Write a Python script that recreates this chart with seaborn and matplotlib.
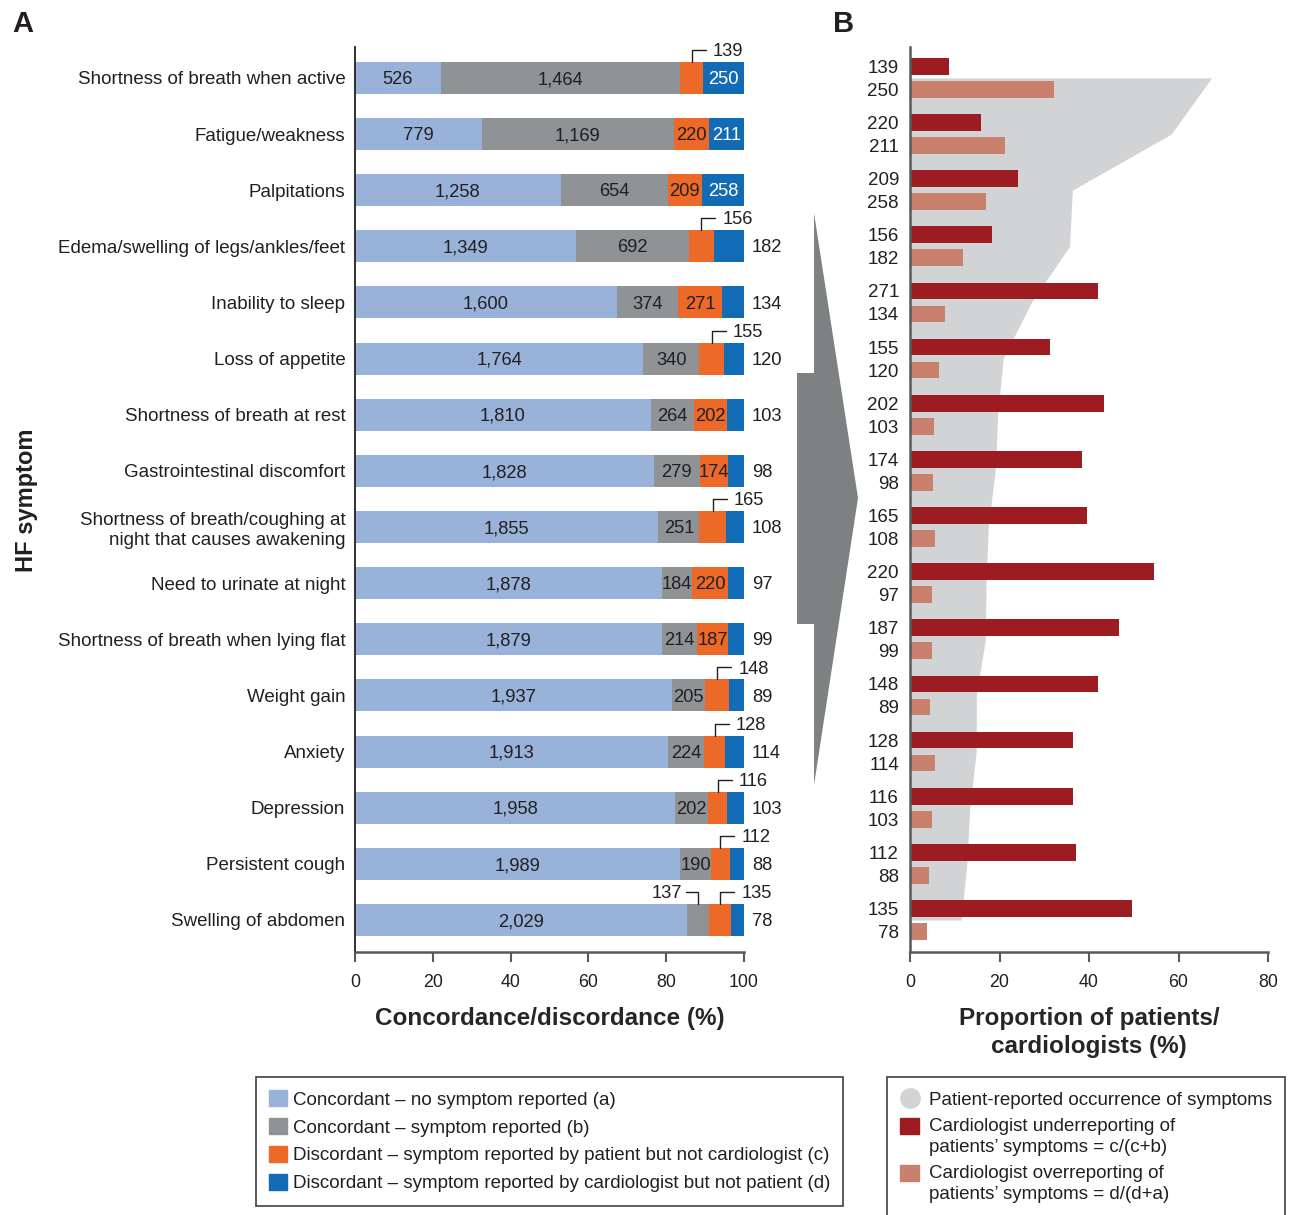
import numpy as np
import pandas as pd
import matplotlib
matplotlib.use('Agg')
import matplotlib.pyplot as plt
from matplotlib.patches import Patch, Polygon
from matplotlib.lines import Line2D
from matplotlib.legend_handler import HandlerPatch
import seaborn as sns

symptoms = ['Shortness of breath when active', 'Fatigue/weakness', 'Palpitations',
            'Edema/swelling of legs/ankles/feet', 'Inability to sleep', 'Loss of appetite',
            'Shortness of breath at rest', 'Gastrointestinal discomfort',
            'Shortness of breath/coughing at\nnight that causes awakening',
            'Need to urinate at night', 'Shortness of breath when lying flat', 'Weight gain',
            'Anxiety', 'Depression', 'Persistent cough', 'Swelling of abdomen']
# a, b, c, d counts per symptom
concord_none = [526, 779, 1258, 1349, 1600, 1764, 1810, 1828, 1855, 1878, 1879, 1937, 1913, 1958, 1989, 2029]
concord_sym = [1464, 1169, 654, 692, 374, 340, 264, 279, 251, 184, 214, 205, 224, 202, 190, 137]
disc_patient = [139, 220, 209, 156, 271, 155, 202, 174, 165, 220, 187, 148, 128, 116, 112, 135]
disc_cardio = [250, 211, 258, 182, 134, 120, 103, 98, 108, 97, 99, 89, 114, 103, 88, 78]

df = pd.DataFrame({'symptom': symptoms, 'a': concord_none, 'b': concord_sym,
                   'c': disc_patient, 'd': disc_cardio})
tot = df[['a', 'b', 'c', 'd']].sum(axis=1)
for k in 'abcd':
    df['p' + k] = df[k] / tot * 100
df['cum_a'] = df['pa']
df['cum_b'] = df['cum_a'] + df['pb']
df['cum_c'] = df['cum_b'] + df['pc']
df['cum_d'] = df['cum_c'] + df['pd']
df['under'] = df['c'] / (df['c'] + df['b']) * 100
df['over'] = df['d'] / (df['d'] + df['a']) * 100
df['occur'] = (df['b'] + df['c']) / tot * 100

# label placement
c_inside = {1, 2, 4, 6, 7, 9, 10}
d_inside = {0, 1, 2}

LBLUE, GREY, ORANGE, BLUE = '#98b2d9', '#8f9396', '#ec6927', '#126bb5'
DRED, SALMON, AREA = '#9c1c22', '#c9806c', '#d1d3d4'
TXT = '#231f20'

sns.set_theme(style='ticks')
plt.rcParams['font.family'] = ['Liberation Sans', 'DejaVu Sans']
plt.rcParams['text.color'] = TXT

W, H = 1292, 1215
fig = plt.figure(figsize=(W / 100, H / 100), dpi=100)
axA = fig.add_axes([355 / W, (H - 952) / H, 389 / W, 905 / H])
axB = fig.add_axes([910 / W, (H - 952) / H, 358 / W, 905 / H])

# ---- panel A: stacked bars
for col, colr in [('cum_d', BLUE), ('cum_c', ORANGE), ('cum_b', GREY), ('cum_a', LBLUE)]:
    sns.barplot(data=df, x=col, y='symptom', color=colr, width=0.57, saturation=1,
                errorbar=None, linewidth=0, ax=axA, orient='h')

fs = 13.2
dy = 0.03
for i, r in df.iterrows():
    axA.text(r.cum_a / 2, i + dy, f"{r.a:,}", ha='center', va='center', fontsize=fs, color=TXT)
    xb = (r.cum_a + r.cum_b) / 2
    if i == 15:
        axA.plot([xb, xb, xb - 3.2], [i - 0.285, i - 0.5, i - 0.5], color=TXT, lw=1)
        axA.text(xb - 4.2, i - 0.5 + dy, f"{r.b:,}", ha='right', va='center', fontsize=fs, color=TXT)
    else:
        axA.text(xb, i + dy, f"{r.b:,}", ha='center', va='center', fontsize=fs, color=TXT)
    xc = (r.cum_b + r.cum_c) / 2
    if i in c_inside:
        axA.text(xc, i + dy, f"{r.c:,}", ha='center', va='center', fontsize=fs, color=TXT)
    else:
        axA.plot([xc, xc, xc + 3.6], [i - 0.285, i - 0.5, i - 0.5], color=TXT, lw=1)
        axA.text(xc + 5.4, i - 0.5 + dy, f"{r.c:,}", ha='left', va='center', fontsize=fs, color=TXT)
    xd = (r.cum_c + r.cum_d) / 2
    if i in d_inside:
        axA.text(xd, i + dy, f"{r.d:,}", ha='center', va='center', fontsize=fs, color='white')
    else:
        axA.text(102, i + dy, f"{r.d:,}", ha='left', va='center', fontsize=fs, color=TXT)

axA.set_xlim(0, 100)
axA.set_ylim(15.57, -0.55)
axA.set_xticks(range(0, 101, 20))
axA.set_xlabel('Concordance/discordance (%)', fontsize=17.5, fontweight='bold', labelpad=12)
axA.set_ylabel('')
axA.tick_params(axis='y', length=0, pad=7, labelsize=13.5, labelcolor=TXT)
axA.tick_params(axis='x', length=7, width=1.5, color='#58595b', labelsize=12.8, labelcolor=TXT, pad=8.5)
sns.despine(ax=axA)
axA.spines['left'].set_color(TXT)
axA.spines['left'].set_linewidth(1.3)
axA.spines['bottom'].set_color('#58595b')
axA.spines['bottom'].set_linewidth(1.8)

# ---- panel B
ypos = np.arange(len(df))
axB.fill_betweenx(ypos, 0, df['occur'], color=AREA, linewidth=0, zorder=0.5)
long = pd.DataFrame({'symptom': symptoms * 2,
                     'kind': ['under'] * len(df) + ['over'] * len(df),
                     'pct': list(df['under']) + list(df['over'])})
sns.barplot(data=long, x='pct', y='symptom', hue='kind', hue_order=['under', 'over'],
            palette=[DRED, SALMON], width=0.82, gap=0.27, saturation=1, errorbar=None,
            linewidth=0, legend=False, ax=axB, orient='h')
ticks, labels = [], []
for i, r in df.iterrows():
    ticks += [i - 0.205, i + 0.205]
    labels += [str(r.c), str(r.d)]
axB.set_yticks(ticks)
axB.set_yticklabels(labels)
axB.set_xlim(0, 80)
axB.set_ylim(15.57, -0.55)
axB.set_xticks(range(0, 81, 20))
axB.set_xlabel('Proportion of patients/\ncardiologists (%)', fontsize=17.5, fontweight='bold',
               labelpad=12, linespacing=1.25)
axB.set_ylabel('')
axB.tick_params(axis='y', length=0, pad=8, labelsize=13.5, labelcolor=TXT)
axB.tick_params(axis='x', length=7, width=1.5, color='#58595b', labelsize=12.8, labelcolor=TXT, pad=8.5)
sns.despine(ax=axB)
for s in ['left', 'bottom']:
    axB.spines[s].set_color('#58595b')
    axB.spines[s].set_linewidth(1.8)

# arrow between panels
pts = [(814, 213), (858, 498), (814, 785), (814, 624), (797, 624), (797, 373), (814, 373)]
fig.patches.append(Polygon([(x / W, 1 - y / H) for x, y in pts], closed=True,
                           transform=fig.transFigure, facecolor='#7d8182', edgecolor='none'))

fig.text(27 / W, 1 - 500 / H, 'HF symptom', rotation=90, ha='center', va='center',
         fontsize=17, fontweight='bold')
fig.text(12 / W, 1 - 24 / H, 'A', fontsize=21, fontweight='bold', va='center', ha='left')
fig.text(833 / W, 1 - 24 / H, 'B', fontsize=21, fontweight='bold', va='center', ha='left')


class HandlerTopPatch(HandlerPatch):
    # square aligned with the first line of a two-line label
    def __init__(self, shift, **kw):
        super().__init__(**kw)
        self.shift = shift

    def create_artists(self, legend, orig_handle, xdescent, ydescent, width, height,
                       fontsize, trans):
        return super().create_artists(legend, orig_handle, xdescent,
                                      ydescent - self.shift * fontsize, width, height,
                                      fontsize, trans)


# legends
lfs = 13.5
hA = [Patch(color=c) for c in [LBLUE, GREY, ORANGE, BLUE]]
lA = ['Concordant – no symptom reported (a)', 'Concordant – symptom reported (b)',
      'Discordant – symptom reported by patient but not cardiologist (c)',
      'Discordant – symptom reported by cardiologist but not patient (d)']
legA = fig.legend(hA, lA, loc='upper left', bbox_to_anchor=(256 / W, 1 - 1077 / H),
                  fontsize=lfs, frameon=True, fancybox=False, edgecolor='#404040',
                  framealpha=1, handlelength=0.95, handleheight=0.95, handletextpad=0.3,
                  labelspacing=0.5, borderpad=0.7, borderaxespad=0)
legA.get_frame().set_linewidth(1.2)
hB = [Line2D([], [], marker='o', linestyle='none', markersize=14, color=AREA),
      Patch(color=DRED), Patch(color=SALMON)]
lB = ['Patient-reported occurrence of symptoms',
      'Cardiologist underreporting of\npatients’ symptoms = c/(c+b)',
      'Cardiologist overreporting of\npatients’ symptoms = d/(d+a)']
legB = fig.legend(hB, lB, loc='upper left', bbox_to_anchor=(887 / W, 1 - 1077 / H),
                  fontsize=lfs, frameon=True, fancybox=False, edgecolor='#404040',
                  framealpha=1, handlelength=1.0, handleheight=1.0, handletextpad=0.55,
                  labelspacing=0.5, borderpad=0.7, borderaxespad=0,
                  handler_map={hB[1]: HandlerTopPatch(0.6), hB[2]: HandlerTopPatch(0.6)})
legB.get_frame().set_linewidth(1.2)
for t in legB.get_texts():
    t.set_linespacing(1.28)

fig.savefig('out.png', dpi=100)
